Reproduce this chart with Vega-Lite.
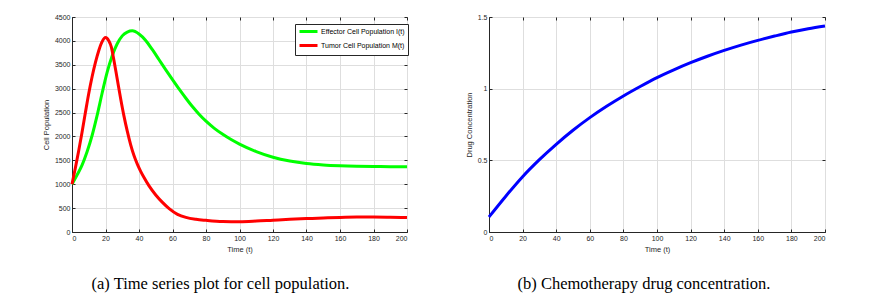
{
  "$schema": "https://vega.github.io/schema/vega-lite/v6.json",
  "background": "white",
  "padding": {"left": 41, "top": 12, "right": 5, "bottom": 5},
  "config": {
    "view": {"stroke": "#262626", "strokeWidth": 1},
    "font": "Liberation Sans",
    "axis": {
      "labelFont": "Liberation Sans", "labelFontSize": 7, "labelColor": "#262626",
      "titleFont": "Liberation Sans", "titleFontSize": 7.5, "titleFontWeight": "normal", "titleColor": "#262626",
      "domainColor": "#262626", "tickColor": "#262626", "tickSize": -3, "labelPadding": 5, "titlePadding": 4,
      "gridColor": "#dedede", "gridWidth": 1
    }
  },
  "bounds": "flush",
  "spacing": 82,
  "hconcat": [
    {
      "width": 335, "height": 215,
      "title": {"text": "(a) Time series plot for cell population.", "orient": "bottom", "font": "Liberation Serif", "fontSize": 16.5, "fontWeight": "normal", "color": "black", "dx": -19, "offset": 23},
      "data": {"values": [
        {"t": 0, "v": 1000, "s": "Effector Cell Population I(t)"},
        {"t": 3, "v": 1190, "s": "Effector Cell Population I(t)"},
        {"t": 6, "v": 1400, "s": "Effector Cell Population I(t)"},
        {"t": 9, "v": 1680, "s": "Effector Cell Population I(t)"},
        {"t": 12, "v": 2020, "s": "Effector Cell Population I(t)"},
        {"t": 15, "v": 2440, "s": "Effector Cell Population I(t)"},
        {"t": 18, "v": 2910, "s": "Effector Cell Population I(t)"},
        {"t": 21, "v": 3345, "s": "Effector Cell Population I(t)"},
        {"t": 24, "v": 3690, "s": "Effector Cell Population I(t)"},
        {"t": 27, "v": 3940, "s": "Effector Cell Population I(t)"},
        {"t": 30, "v": 4105, "s": "Effector Cell Population I(t)"},
        {"t": 33, "v": 4185, "s": "Effector Cell Population I(t)"},
        {"t": 36, "v": 4210, "s": "Effector Cell Population I(t)"},
        {"t": 40, "v": 4145, "s": "Effector Cell Population I(t)"},
        {"t": 44, "v": 4010, "s": "Effector Cell Population I(t)"},
        {"t": 48, "v": 3815, "s": "Effector Cell Population I(t)"},
        {"t": 52, "v": 3605, "s": "Effector Cell Population I(t)"},
        {"t": 56, "v": 3395, "s": "Effector Cell Population I(t)"},
        {"t": 60, "v": 3190, "s": "Effector Cell Population I(t)"},
        {"t": 64, "v": 2990, "s": "Effector Cell Population I(t)"},
        {"t": 68, "v": 2800, "s": "Effector Cell Population I(t)"},
        {"t": 72, "v": 2620, "s": "Effector Cell Population I(t)"},
        {"t": 76, "v": 2460, "s": "Effector Cell Population I(t)"},
        {"t": 80, "v": 2320, "s": "Effector Cell Population I(t)"},
        {"t": 85, "v": 2170, "s": "Effector Cell Population I(t)"},
        {"t": 90, "v": 2045, "s": "Effector Cell Population I(t)"},
        {"t": 95, "v": 1935, "s": "Effector Cell Population I(t)"},
        {"t": 100, "v": 1840, "s": "Effector Cell Population I(t)"},
        {"t": 110, "v": 1683, "s": "Effector Cell Population I(t)"},
        {"t": 120, "v": 1565, "s": "Effector Cell Population I(t)"},
        {"t": 130, "v": 1485, "s": "Effector Cell Population I(t)"},
        {"t": 140, "v": 1432, "s": "Effector Cell Population I(t)"},
        {"t": 150, "v": 1402, "s": "Effector Cell Population I(t)"},
        {"t": 160, "v": 1385, "s": "Effector Cell Population I(t)"},
        {"t": 170, "v": 1375, "s": "Effector Cell Population I(t)"},
        {"t": 180, "v": 1370, "s": "Effector Cell Population I(t)"},
        {"t": 190, "v": 1368, "s": "Effector Cell Population I(t)"},
        {"t": 200, "v": 1368, "s": "Effector Cell Population I(t)"},
        {"t": 0, "v": 1000, "s": "Tumor Cell Population M(t)"},
        {"t": 2, "v": 1340, "s": "Tumor Cell Population M(t)"},
        {"t": 4, "v": 1700, "s": "Tumor Cell Population M(t)"},
        {"t": 6, "v": 2090, "s": "Tumor Cell Population M(t)"},
        {"t": 8, "v": 2500, "s": "Tumor Cell Population M(t)"},
        {"t": 10, "v": 2900, "s": "Tumor Cell Population M(t)"},
        {"t": 12, "v": 3250, "s": "Tumor Cell Population M(t)"},
        {"t": 14, "v": 3550, "s": "Tumor Cell Population M(t)"},
        {"t": 16, "v": 3800, "s": "Tumor Cell Population M(t)"},
        {"t": 18, "v": 3985, "s": "Tumor Cell Population M(t)"},
        {"t": 20, "v": 4070, "s": "Tumor Cell Population M(t)"},
        {"t": 22, "v": 4000, "s": "Tumor Cell Population M(t)"},
        {"t": 23.5, "v": 3870, "s": "Tumor Cell Population M(t)"},
        {"t": 25, "v": 3600, "s": "Tumor Cell Population M(t)"},
        {"t": 27, "v": 3200, "s": "Tumor Cell Population M(t)"},
        {"t": 29, "v": 2800, "s": "Tumor Cell Population M(t)"},
        {"t": 31, "v": 2430, "s": "Tumor Cell Population M(t)"},
        {"t": 33, "v": 2110, "s": "Tumor Cell Population M(t)"},
        {"t": 35, "v": 1830, "s": "Tumor Cell Population M(t)"},
        {"t": 37, "v": 1600, "s": "Tumor Cell Population M(t)"},
        {"t": 39, "v": 1420, "s": "Tumor Cell Population M(t)"},
        {"t": 41, "v": 1270, "s": "Tumor Cell Population M(t)"},
        {"t": 43, "v": 1140, "s": "Tumor Cell Population M(t)"},
        {"t": 46, "v": 965, "s": "Tumor Cell Population M(t)"},
        {"t": 50, "v": 775, "s": "Tumor Cell Population M(t)"},
        {"t": 54, "v": 620, "s": "Tumor Cell Population M(t)"},
        {"t": 58, "v": 490, "s": "Tumor Cell Population M(t)"},
        {"t": 63, "v": 370, "s": "Tumor Cell Population M(t)"},
        {"t": 68, "v": 305, "s": "Tumor Cell Population M(t)"},
        {"t": 74, "v": 265, "s": "Tumor Cell Population M(t)"},
        {"t": 80, "v": 244, "s": "Tumor Cell Population M(t)"},
        {"t": 90, "v": 220, "s": "Tumor Cell Population M(t)"},
        {"t": 100, "v": 216, "s": "Tumor Cell Population M(t)"},
        {"t": 110, "v": 228, "s": "Tumor Cell Population M(t)"},
        {"t": 120, "v": 247, "s": "Tumor Cell Population M(t)"},
        {"t": 130, "v": 265, "s": "Tumor Cell Population M(t)"},
        {"t": 140, "v": 280, "s": "Tumor Cell Population M(t)"},
        {"t": 150, "v": 294, "s": "Tumor Cell Population M(t)"},
        {"t": 160, "v": 306, "s": "Tumor Cell Population M(t)"},
        {"t": 170, "v": 313, "s": "Tumor Cell Population M(t)"},
        {"t": 180, "v": 314, "s": "Tumor Cell Population M(t)"},
        {"t": 190, "v": 309, "s": "Tumor Cell Population M(t)"},
        {"t": 200, "v": 301, "s": "Tumor Cell Population M(t)"}
      ]},
      "layer": [
        {
          "mark": {"type": "line", "strokeWidth": 3, "interpolate": "monotone"},
          "encoding": {
            "x": {"field": "t", "type": "quantitative", "scale": {"domain": [0, 200], "nice": false},
                  "axis": {"title": "Time (t)", "values": [0, 20, 40, 60, 80, 100, 120, 140, 160, 180, 200], "grid": true}},
            "y": {"field": "v", "type": "quantitative", "scale": {"domain": [0, 4500], "nice": false},
                  "axis": {"title": "Cell Population", "format": "d", "values": [0, 500, 1000, 1500, 2000, 2500, 3000, 3500, 4000, 4500], "grid": true}},
            "color": {"field": "s", "type": "nominal",
                      "scale": {"domain": ["Effector Cell Population I(t)", "Tumor Cell Population M(t)"], "range": ["#00ff00", "#ff0000"]},
                      "legend": {"title": null, "orient": "none", "legendX": 223, "legendY": 7, "fillColor": "white", "strokeColor": "#262626",
                                 "padding": 3, "labelFontSize": 7, "labelFont": "Liberation Sans", "labelColor": "#000000",
                                 "symbolType": "M-1,0H5", "symbolSize": 36, "symbolStrokeWidth": 3, "labelOffset": 14, "rowPadding": 1}}
          }
        },
        {
          "mark": {"type": "line", "strokeOpacity": 0},
          "encoding": {
            "x": {"field": "t", "type": "quantitative", "axis": {"orient": "top", "labels": false, "title": null, "grid": false, "domain": false, "values": [0, 20, 40, 60, 80, 100, 120, 140, 160, 180, 200]}},
            "y": {"field": "v", "type": "quantitative", "axis": {"orient": "right", "labels": false, "title": null, "grid": false, "domain": false, "values": [0, 500, 1000, 1500, 2000, 2500, 3000, 3500, 4000, 4500]}},
            "detail": {"field": "s"}
          }
        }
      ],
      "resolve": {"axis": {"x": "independent", "y": "independent"}}
    },
    {
      "width": 336, "height": 215,
      "title": {"text": "(b) Chemotherapy drug concentration.", "orient": "bottom", "font": "Liberation Serif", "fontSize": 16.5, "fontWeight": "normal", "color": "black", "dx": -13, "offset": 23},
      "data": {"values": [
        {"t": 0, "c": 0.105}, {"t": 10, "c": 0.25}, {"t": 20, "c": 0.386}, {"t": 30, "c": 0.505},
        {"t": 40, "c": 0.612}, {"t": 50, "c": 0.71}, {"t": 60, "c": 0.798}, {"t": 70, "c": 0.877},
        {"t": 80, "c": 0.949}, {"t": 90, "c": 1.015}, {"t": 100, "c": 1.077}, {"t": 110, "c": 1.131},
        {"t": 120, "c": 1.181}, {"t": 130, "c": 1.226}, {"t": 140, "c": 1.267}, {"t": 150, "c": 1.304},
        {"t": 160, "c": 1.337}, {"t": 170, "c": 1.367}, {"t": 180, "c": 1.395}, {"t": 190, "c": 1.418},
        {"t": 200, "c": 1.437}
      ]},
      "layer": [
        {
          "mark": {"type": "line", "strokeWidth": 3, "color": "#0000ff", "interpolate": "monotone"},
          "encoding": {
            "x": {"field": "t", "type": "quantitative", "scale": {"domain": [0, 200], "nice": false},
                  "axis": {"title": "Time (t)", "values": [0, 20, 40, 60, 80, 100, 120, 140, 160, 180, 200], "grid": true}},
            "y": {"field": "c", "type": "quantitative", "scale": {"domain": [0, 1.5], "nice": false},
                  "axis": {"title": "Drug Concentration", "format": "~g", "values": [0, 0.5, 1, 1.5], "grid": true}}
          }
        },
        {
          "mark": {"type": "line", "strokeOpacity": 0},
          "encoding": {
            "x": {"field": "t", "type": "quantitative", "axis": {"orient": "top", "labels": false, "title": null, "grid": false, "domain": false, "values": [0, 20, 40, 60, 80, 100, 120, 140, 160, 180, 200]}},
            "y": {"field": "c", "type": "quantitative", "axis": {"orient": "right", "labels": false, "title": null, "grid": false, "domain": false, "values": [0, 0.5, 1, 1.5]}}
          }
        }
      ],
      "resolve": {"axis": {"x": "independent", "y": "independent"}}
    }
  ]
}
